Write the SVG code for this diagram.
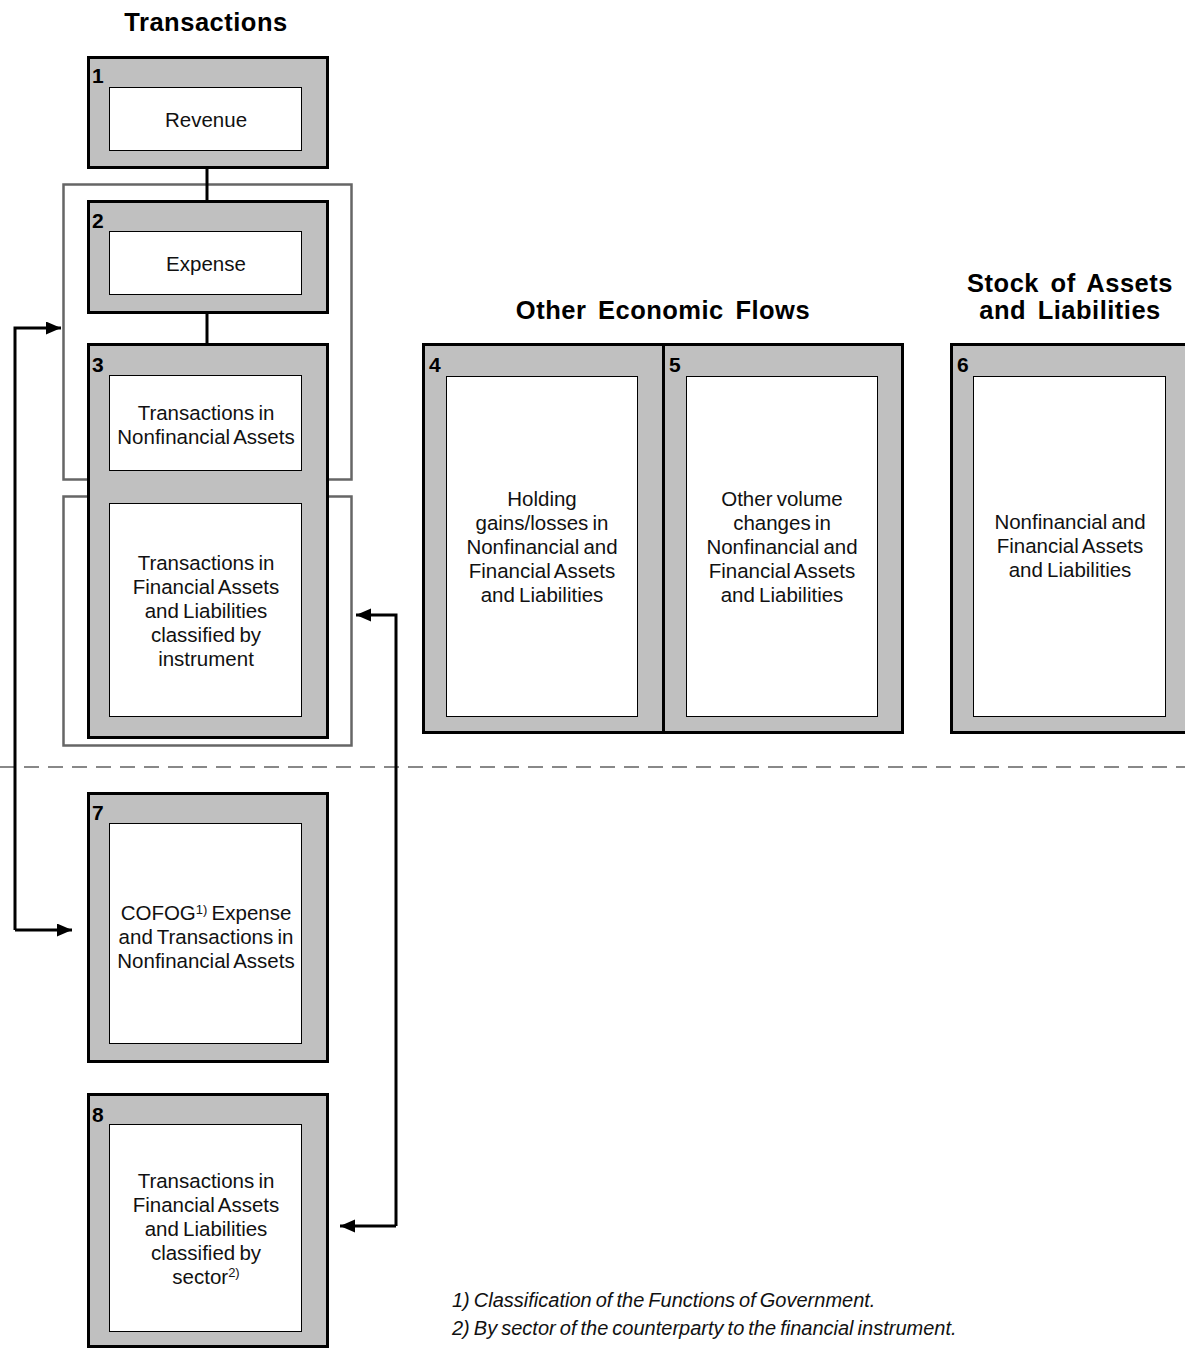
<svg xmlns="http://www.w3.org/2000/svg" width="1185" height="1349" viewBox="0 0 1185 1349">
<style>
.outer{fill:#c0c0c0;stroke:#000;stroke-width:3}
.inner{fill:#fff;stroke:#000;stroke-width:1}
.grp{fill:none;stroke:#666;stroke-width:2.5}
.num{font-family:"Liberation Sans",Arial,sans-serif;font-weight:bold;font-size:21px;fill:#000}
.head{font-family:"Liberation Sans",Arial,sans-serif;font-weight:bold;font-size:25.5px;letter-spacing:0.5px;word-spacing:4px;fill:#000;text-anchor:middle}
.txt{font-family:"Liberation Sans",Arial,sans-serif;font-size:20.5px;word-spacing:-1.5px;fill:#111;text-anchor:middle}
.sup{font-size:13px}
.foot{font-family:"Liberation Sans",Arial,sans-serif;font-style:italic;font-size:20px;word-spacing:-1.5px;fill:#111}
.conn{fill:none;stroke:#000;stroke-width:3}
.dash{stroke:#888;stroke-width:2;stroke-dasharray:15 9}
</style>
<defs>
<marker id="arr" markerUnits="userSpaceOnUse" markerWidth="16" markerHeight="14" refX="15" refY="6.5" orient="auto">
<path d="M0,0 L15,6.5 L0,13 Z" fill="#000"/>
</marker>
</defs>

<g id="headings">
<text class="head" x="206" y="31">Transactions</text>
<text class="head" x="663" y="319">Other Economic Flows</text>
<text class="head" x="1070" y="292">Stock of Assets</text>
<text class="head" x="1070" y="319">and Liabilities</text>
</g>

<g id="groups">
<rect class="grp" x="63.5" y="184.5" width="288" height="295"/>
<rect class="grp" x="63.5" y="496.5" width="288" height="249"/>
</g>

<line class="dash" x1="0" y1="767" x2="1185" y2="767"/>

<g id="connectors">
<line class="conn" x1="207" y1="168" x2="207" y2="200"/>
<line class="conn" x1="207" y1="313" x2="207" y2="343"/>
<path class="conn" d="M15,930 V328 H61" marker-end="url(#arr)"/>
<path class="conn" d="M15,930 H72" marker-end="url(#arr)"/>
<path class="conn" d="M396,1226 V615 H356" marker-end="url(#arr)"/>
<path class="conn" d="M396,1226 H340" marker-end="url(#arr)"/>
</g>

<g id="node1">
<rect class="outer" x="88.5" y="57.5" width="239" height="110"/>
<rect class="inner" x="109.5" y="87.5" width="192" height="63"/>
<text class="num" x="92" y="83">1</text>
<text class="txt" x="206" y="127">Revenue</text>
</g>

<g id="node2">
<rect class="outer" x="88.5" y="201.5" width="239" height="111"/>
<rect class="inner" x="109.5" y="231.5" width="192" height="63"/>
<text class="num" x="92" y="228">2</text>
<text class="txt" x="206" y="271">Expense</text>
</g>

<g id="node3">
<rect class="outer" x="88.5" y="344.5" width="239" height="393"/>
<rect class="inner" x="109.5" y="375.5" width="192" height="95"/>
<rect class="inner" x="109.5" y="503.5" width="192" height="213"/>
<text class="num" x="92" y="372">3</text>
<text class="txt" x="206" y="420">Transactions in</text>
<text class="txt" x="206" y="444">Nonfinancial Assets</text>
<text class="txt" x="206" y="570">Transactions in</text>
<text class="txt" x="206" y="594">Financial Assets</text>
<text class="txt" x="206" y="618">and Liabilities</text>
<text class="txt" x="206" y="642">classified by</text>
<text class="txt" x="206" y="666">instrument</text>
</g>

<g id="node4">
<rect class="outer" x="423.5" y="344.5" width="240" height="388"/>
<rect class="inner" x="446.5" y="376.5" width="191" height="340"/>
<text class="num" x="429" y="372">4</text>
<text class="txt" x="542" y="506">Holding</text>
<text class="txt" x="542" y="530">gains/losses in</text>
<text class="txt" x="542" y="554">Nonfinancial and</text>
<text class="txt" x="542" y="578">Financial Assets</text>
<text class="txt" x="542" y="602">and Liabilities</text>
</g>

<g id="node5">
<rect class="outer" x="663.5" y="344.5" width="239" height="388"/>
<rect class="inner" x="686.5" y="376.5" width="191" height="340"/>
<text class="num" x="669" y="372">5</text>
<text class="txt" x="782" y="506">Other volume</text>
<text class="txt" x="782" y="530">changes in</text>
<text class="txt" x="782" y="554">Nonfinancial and</text>
<text class="txt" x="782" y="578">Financial Assets</text>
<text class="txt" x="782" y="602">and Liabilities</text>
</g>

<g id="node6">
<rect class="outer" x="951.5" y="344.5" width="240" height="388"/>
<rect class="inner" x="973.5" y="376.5" width="192" height="340"/>
<text class="num" x="957" y="372">6</text>
<text class="txt" x="1070" y="529">Nonfinancial and</text>
<text class="txt" x="1070" y="553">Financial Assets</text>
<text class="txt" x="1070" y="577">and Liabilities</text>
</g>

<g id="node7">
<rect class="outer" x="88.5" y="793.5" width="239" height="268"/>
<rect class="inner" x="109.5" y="823.5" width="192" height="220"/>
<text class="num" x="92" y="820">7</text>
<text class="txt" x="206" y="920">COFOG<tspan class="sup" dy="-6">1)</tspan><tspan dy="6"> Expense</tspan></text>
<text class="txt" x="206" y="944">and Transactions in</text>
<text class="txt" x="206" y="968">Nonfinancial Assets</text>
</g>

<g id="node8">
<rect class="outer" x="88.5" y="1094.5" width="239" height="252"/>
<rect class="inner" x="109.5" y="1124.5" width="192" height="207"/>
<text class="num" x="92" y="1122">8</text>
<text class="txt" x="206" y="1188">Transactions in</text>
<text class="txt" x="206" y="1212">Financial Assets</text>
<text class="txt" x="206" y="1236">and Liabilities</text>
<text class="txt" x="206" y="1260">classified by</text>
<text class="txt" x="206" y="1284">sector<tspan class="sup" dy="-7">2)</tspan></text>
</g>

<g id="footnotes">
<text class="foot" x="452" y="1307">1) Classification of the Functions of Government.</text>
<text class="foot" x="452" y="1335">2) By sector of the counterparty to the financial instrument.</text>
</g>
</svg>
